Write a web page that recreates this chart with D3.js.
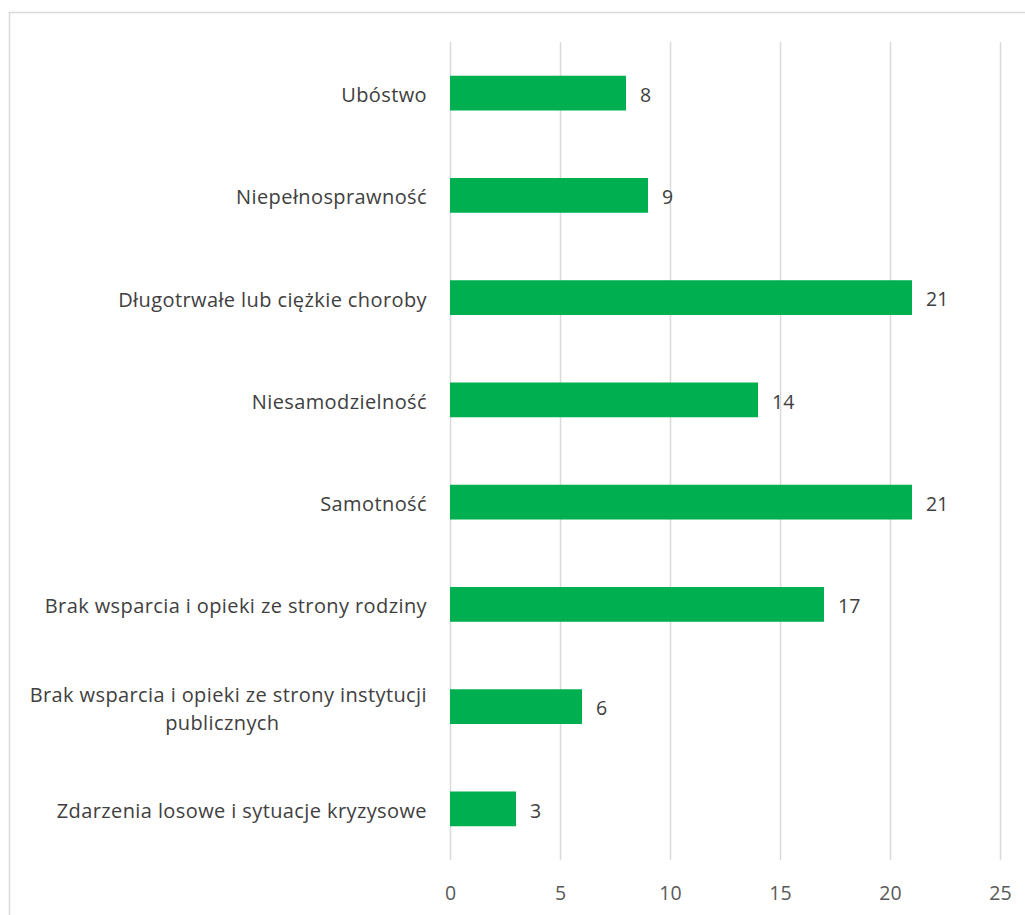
<!DOCTYPE html>
<html><head><meta charset="utf-8">
<script src="https://cdn.jsdelivr.net/npm/d3@7"></script>
<style>body{margin:0;background:#fff}svg{display:block}</style>
</head><body>
<svg id="c" width="1025" height="915"></svg>
<script>
const categories = ["Ubóstwo","Niepełnosprawność","Długotrwałe lub ciężkie choroby","Niesamodzielność","Samotność","Brak wsparcia i opieki ze strony rodziny","Brak wsparcia i opieki ze strony instytucji publicznych","Zdarzenia losowe i sytuacje kryzysowe"];
const values = [8,9,21,14,21,17,6,3];
const ticks = [0,5,10,15,20,25];

const svg = d3.select("#c");
const font = "'Open Sans', sans-serif";
svg.append("rect").attr("x",9.5).attr("y",12.5).attr("width",1030).attr("height",920)
  .attr("fill","#fff").attr("stroke","#d9d9d9").attr("stroke-width",1.5);

const x = d3.scaleLinear().domain([0,25]).range([450,1000]);
const y = d3.scaleBand().domain(categories).range([42,860]).paddingInner(0.66).paddingOuter(0.33);

svg.append("g").selectAll("line").data(ticks).join("line")
  .attr("x1",d=>x(d)+0.5).attr("x2",d=>x(d)+0.5).attr("y1",42).attr("y2",860)
  .attr("stroke","#d9d9d9").attr("stroke-width",1.5);

const ax = svg.append("g").attr("transform","translate(0,860)")
  .call(d3.axisBottom(x).tickValues(ticks).tickSize(0).tickPadding(26).tickFormat(d3.format("d")));
ax.select(".domain").remove();
ax.selectAll("text").attr("font-family",font).attr("font-size",19.5).attr("fill","#595959");

svg.append("g").selectAll("rect").data(values).join("rect")
  .attr("x",x(0)).attr("y",(d,i)=>y(categories[i])).attr("width",d=>x(d)-x(0))
  .attr("height",y.bandwidth()).attr("fill","#00b050");

svg.append("g").selectAll("text").data(values).join("text")
  .attr("x",d=>x(d)+14).attr("y",(d,i)=>y(categories[i])+y.bandwidth()/2+2)
  .attr("dy","0.35em").attr("font-family",font).attr("font-size",19.5).attr("fill","#404040")
  .text(d=>d);

const wrap = {"Brak wsparcia i opieki ze strony instytucji publicznych":["Brak wsparcia i opieki ze strony instytucji","publicznych"]};
const lab = svg.append("g");
categories.forEach(c=>{
  const lines = wrap[c] || [c];
  const cy = y(c)+y.bandwidth()/2+2;
  const lh = 28;
  const t = lab.append("text").attr("font-family",font).attr("font-size",20)
    .attr("letter-spacing",0.4).attr("fill","#404040");
  const first = t.append("tspan").attr("x",427).attr("text-anchor","end")
    .attr("y", cy - (lines.length-1)/2*lh).attr("dy","0.35em").text(lines[0]);
  if (lines.length>1) {
    const w = first.node().getComputedTextLength();
    t.append("tspan").attr("x",427-w/2-6).attr("text-anchor","middle")
      .attr("y", cy + lh/2).attr("dy","0.35em").text(lines[1]);
  }
});
</script>
</body></html>
